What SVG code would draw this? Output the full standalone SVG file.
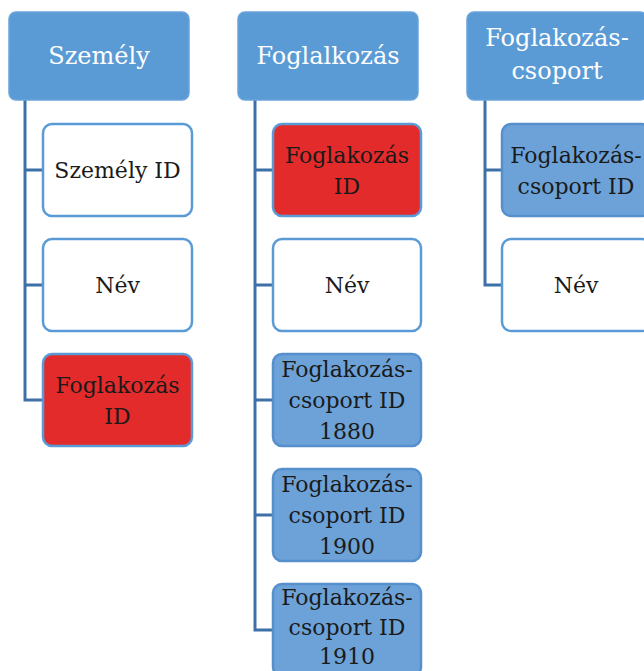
<svg xmlns="http://www.w3.org/2000/svg" width="644" height="671" viewBox="0 0 644 671">
<style>
.hdr{fill:#5B9BD5;stroke:#6AA4DA;stroke-width:1.5}
.wht{fill:#FFFFFF;stroke:#5B9BD5;stroke-width:2.5}
.red{fill:#E32B2B;stroke:#5B9BD5;stroke-width:2.5}
.blu{fill:#6CA2D8;stroke:#5690CC;stroke-width:2.5}
text{font-family:'DejaVu Serif','Liberation Serif',serif;text-anchor:middle}
.ht{font-size:24px;fill:#FFFFFF}
.ct{font-size:22px;fill:#1A1A1A}
.con{fill:none;stroke:#3E70A8;stroke-width:3}
</style>
<rect width="644" height="671" fill="#FFFFFF"/>
<g id="connectors">
<path class="con" d="M25,100 V400 H43 M25,170 H43 M25,285 H43"/>
<path class="con" d="M255,100 V630 H273 M255,170 H273 M255,285 H273 M255,400 H273 M255,515 H273"/>
<path class="con" d="M485,100 V285 H502 M485,170 H502"/>
</g>
<g id="szemely">
<rect class="hdr" x="9" y="12" width="180" height="88" rx="7"/>
<text class="ht" x="99" y="64">Személy</text>
</g>
<g id="szemely-id">
<rect class="wht" x="43" y="124" width="149" height="92" rx="9"/>
<text class="ct" x="117.5" y="178">Személy ID</text>
</g>
<g id="szemely-nev">
<rect class="wht" x="43" y="239" width="149" height="92" rx="9"/>
<text class="ct" x="117.5" y="293">Név</text>
</g>
<g id="szemely-foglakozas-id">
<rect class="red" x="43" y="354" width="149" height="92" rx="9"/>
<text class="ct" x="117.5" y="393">Foglakozás</text>
<text class="ct" x="117.5" y="424">ID</text>
</g>
<g id="foglalkozas">
<rect class="hdr" x="238" y="12" width="180" height="88" rx="7"/>
<text class="ht" x="328" y="64">Foglalkozás</text>
</g>
<g id="foglakozas-id">
<rect class="red" x="273" y="124" width="148" height="92" rx="9"/>
<text class="ct" x="347" y="163">Foglakozás</text>
<text class="ct" x="347" y="194">ID</text>
</g>
<g id="foglalkozas-nev">
<rect class="wht" x="273" y="239" width="148" height="92" rx="9"/>
<text class="ct" x="347" y="293">Név</text>
</g>
<g id="csoport-1880">
<rect class="blu" x="273" y="354" width="148" height="92" rx="9"/>
<text class="ct" x="347" y="377">Foglakozás-</text>
<text class="ct" x="347" y="408">csoport ID</text>
<text class="ct" x="347" y="439">1880</text>
</g>
<g id="csoport-1900">
<rect class="blu" x="273" y="469" width="148" height="92" rx="9"/>
<text class="ct" x="347" y="492">Foglakozás-</text>
<text class="ct" x="347" y="523">csoport ID</text>
<text class="ct" x="347" y="554">1900</text>
</g>
<g id="csoport-1910">
<rect class="blu" x="273" y="584" width="148" height="92" rx="9"/>
<text class="ct" x="347" y="605">Foglakozás-</text>
<text class="ct" x="347" y="635">csoport ID</text>
<text class="ct" x="347" y="664">1910</text>
</g>
<g id="foglakozas-csoport">
<rect class="hdr" x="467" y="12" width="180" height="88" rx="7"/>
<text class="ht" x="557" y="46">Foglakozás-</text>
<text class="ht" x="557" y="79">csoport</text>
</g>
<g id="foglakozas-csoport-id">
<rect class="blu" x="502" y="124" width="149" height="92" rx="9"/>
<text class="ct" x="576" y="163">Foglakozás-</text>
<text class="ct" x="576" y="194">csoport ID</text>
</g>
<g id="foglakozas-csoport-nev">
<rect class="wht" x="502" y="239" width="149" height="92" rx="9"/>
<text class="ct" x="576" y="293">Név</text>
</g>
</svg>
